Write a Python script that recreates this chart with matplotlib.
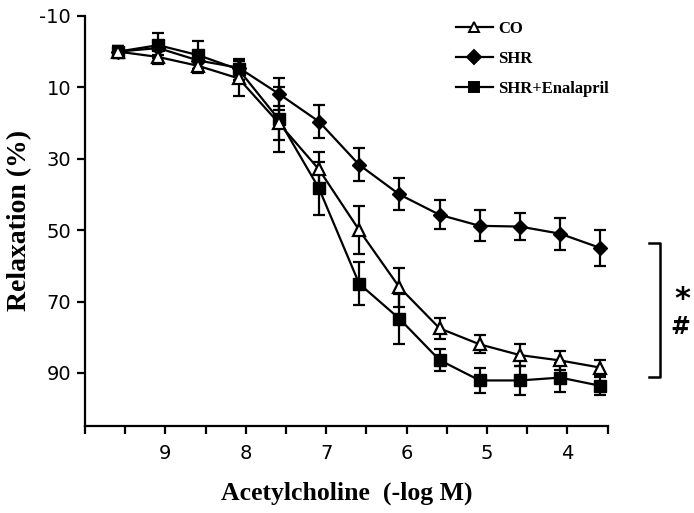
import matplotlib
matplotlib.use("Agg")
import matplotlib.pyplot as plt
import numpy as np

plt.rcParams["axes.unicode_minus"] = False

# Acetylcholine concentration (-log M)
ach_dose = [9.5, 9.0, 8.5, 8.0, 7.5, 7.0, 6.5, 6.0, 5.5, 5.0, 4.5, 4.0, 3.5]

# Relaxation (%) mean and SEM per group
co_mean = [0, 1.5, 4, 7.5, 20, 33, 50, 66, 77.5, 82, 85, 86.5, 88.5]
co_sem = [1.5, 2, 2, 5, 4.7, 5, 6.8, 5.5, 3, 2.5, 3, 2.7, 2]
shr_mean = [0, -1, 2.5, 4.5, 11.8, 19.6, 31.7, 40, 45.7, 48.8, 49, 51, 55]
shr_sem = [1.5, 2, 2.5, 2, 4.5, 4.6, 4.6, 4.5, 4, 4.3, 3.8, 4.5, 5]
enal_mean = [0, -1.8, 1, 5, 19, 38.3, 65, 74.8, 86.4, 92.1, 92.1, 91.3, 93.6]
enal_sem = [1.5, 3.5, 4, 3, 9, 7.5, 6, 7, 3, 3.5, 4, 4, 2.6]

group_labels = ["CO", "SHR", "SHR+Enalapril"]
y_ticks = [-10, 10, 30, 50, 70, 90]
x_tick_labels = ["", "", "9", "", "8", "", "7", "", "6", "", "5", "", "4", ""]

SERIF = ["Liberation Serif", "DejaVu Serif"]


def draw():
    fig = plt.figure(figsize=(6.94, 5.13), dpi=100)
    ax = fig.add_axes([0.1225, 0.170, 0.753, 0.799])

    common = dict(color="black", linewidth=1.6, elinewidth=1.6,
                  capsize=4.5, capthick=1.6)
    c_co = ax.errorbar(ach_dose, co_mean, yerr=co_sem, marker="^",
                       markersize=8.5, markerfacecolor="white",
                       markeredgecolor="black", markeredgewidth=1.6,
                       label=group_labels[0], zorder=3, **common)
    c_shr = ax.errorbar(ach_dose, shr_mean, yerr=shr_sem, marker="D",
                        markersize=7.5, label=group_labels[1], zorder=2,
                        **common)
    c_enal = ax.errorbar(ach_dose, enal_mean, yerr=enal_sem, marker="s",
                         markersize=8.5, label=group_labels[2], zorder=2,
                         **common)

    # x axis: Excel-like category offset
    x_ticks = 9.91 - 0.5 * np.arange(14)
    ax.set_xlim(9.91, 3.44)
    ax.set_xticks(x_ticks)
    ax.set_xticklabels(x_tick_labels)
    ax.set_ylim(104.8, -10)
    ax.set_yticks(y_ticks)

    for s in ["top", "right"]:
        ax.spines[s].set_visible(False)
    for s in ["left", "bottom"]:
        ax.spines[s].set_linewidth(1.6)
    ax.tick_params(axis="both", direction="out", width=1.6, length=6,
                   labelsize=14)
    ax.tick_params(axis="x", pad=7)
    ax.tick_params(axis="y", pad=4)

    ax.set_xlabel("Acetylcholine  (-log M)", family=SERIF, fontweight="bold",
                  fontsize=18.5)
    ax.set_ylabel("Relaxation (%)", family=SERIF, fontweight="bold",
                  fontsize=20)
    ax.xaxis.set_label_coords(0.5, -0.135)
    ax.yaxis.set_label_coords(-0.101, 0.5)

    # legend without error bars, smaller markers
    handles = []
    for c in (c_co, c_shr, c_enal):
        line = c[0]
        h = plt.Line2D([], [], color="black", linewidth=1.6,
                       marker=line.get_marker(), markersize=7,
                       markerfacecolor=line.get_markerfacecolor(),
                       markeredgecolor="black", markeredgewidth=1.4)
        handles.append(h)
    ax.legend(handles, group_labels, loc="upper left",
              bbox_to_anchor=(456 / 694, 1 - 21 / 513),
              bbox_transform=fig.transFigure, frameon=False,
              borderpad=0, borderaxespad=0, handlelength=2.2,
              handletextpad=0.35, labelspacing=0.85,
              prop=dict(family=SERIF, weight="bold", size=12))

    # significance bracket
    ax.plot([2.90, 2.76, 2.76, 2.90], [53.6, 53.6, 91.0, 91.0],
            color="black", linewidth=1.8, clip_on=False)
    fig.text(682 / 694, 1 - 299 / 513, "*", ha="center", va="center",
             fontsize=22, fontweight="bold")
    fig.text(680 / 694, 1 - 327 / 513, "#", ha="center", va="center",
             fontsize=17, fontweight="bold")

    fig.savefig("out.png", dpi=100)
    plt.close(fig)


if __name__ == "__main__":
    draw()
